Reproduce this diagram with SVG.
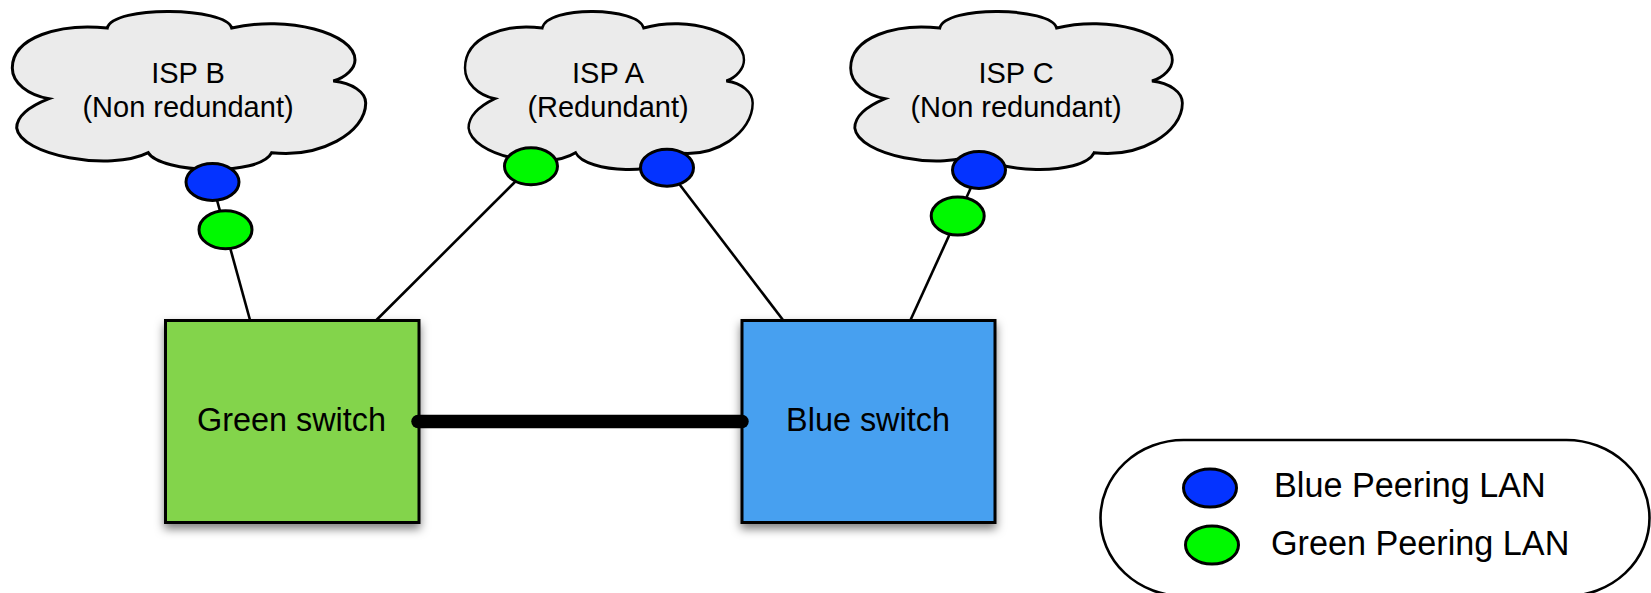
<svg xmlns="http://www.w3.org/2000/svg" xmlns:xlink="http://www.w3.org/1999/xlink" width="1651" height="593" viewBox="0 0 1651 593">
<style>
text{font-family:"Liberation Sans",Arial,sans-serif;fill:#000}
.c{text-anchor:middle}
.isp{font-size:29px}
.sw{font-size:32.400px}
.leg{font-size:34.200px}
.cloud{fill:#ebebeb;stroke:#000;stroke-width:3;stroke-linejoin:miter;vector-effect:non-scaling-stroke}
.b{fill:#0433ff}
.g{fill:#00f900}
.port{stroke:#000;stroke-width:3}
.box{stroke:#000;stroke-width:3;filter:url(#sh)}
.ln{stroke:#000;stroke-width:2.600;fill:none}
</style>
<defs>
<filter id="sh" x="-10%" y="-10%" width="120%" height="125%"><feDropShadow dx="0" dy="5" stdDeviation="5" flood-color="#000" flood-opacity="0.5"/></filter>
<path id="cl" d="M107.300 28C113 5 226 7 231.700 28C287 15 355 33 355 60C355 68 346.700 77 333.300 81C352 83 365.700 92 365.700 103C365.700 133 320 158 271.700 152.700C260 177 160 173 148.300 152.700C110 172 20 155 16.700 128C16.700 115 33 105 49 98.700C28 95 12.300 83 12.300 68C12.300 37 60 23 107.300 28Z"/>
</defs>
<g id="connectors">
<line class="ln" x1="212" y1="182" x2="250" y2="320"/>
<line class="ln" x1="531" y1="166" x2="376.500" y2="320"/>
<line class="ln" x1="667" y1="168" x2="783" y2="320"/>
<line class="ln" x1="979" y1="170" x2="910.500" y2="320"/>
</g>
<g id="isp-b">
<use xlink:href="#cl" class="cloud"/>
<text class="isp c" x="188" y="83">ISP B</text>
<text class="isp c" x="188" y="117">(Non redundant)</text>
<ellipse class="port b" cx="212.500" cy="182" rx="26.500" ry="18.500"/>
<ellipse class="port g" cx="225.500" cy="229.700" rx="26.500" ry="19"/>
</g>
<g id="isp-a">
<use xlink:href="#cl" class="cloud" transform="translate(455 0) scale(.814 1)"/>
<text class="isp c" x="608" y="83">ISP A</text>
<text class="isp c" x="608" y="117">(Redundant)</text>
<ellipse class="port g" cx="531" cy="166.300" rx="26.500" ry="18.500"/>
<ellipse class="port b" cx="667" cy="167.700" rx="26.500" ry="18.500"/>
</g>
<g id="isp-c">
<use xlink:href="#cl" class="cloud" transform="translate(839.100 0) scale(.9387 1)"/>
<text class="isp c" x="1016" y="83">ISP C</text>
<text class="isp c" x="1016" y="117">(Non redundant)</text>
<ellipse class="port b" cx="979" cy="170" rx="26.500" ry="18.500"/>
<ellipse class="port g" cx="957.700" cy="216" rx="26.500" ry="19"/>
</g>
<g id="green-switch">
<rect class="box" x="165.500" y="320.500" width="253.500" height="202" fill="#83d44c"/>
<text class="sw c" x="291.500" y="431">Green switch</text>
</g>
<g id="blue-switch">
<rect class="box" x="742" y="320.500" width="253" height="202" fill="#47a0f0"/>
<text class="sw c" x="868" y="431">Blue switch</text>
</g>
<g id="trunk">
<line x1="418" y1="421.500" x2="742" y2="421.500" stroke="#000" stroke-width="13.500" stroke-linecap="round"/>
</g>
<g id="legend">
<rect x="1100.500" y="440" width="549" height="156" rx="83" ry="78" fill="#fff" stroke="#000" stroke-width="2.600"/>
<ellipse class="port b" cx="1210" cy="488" rx="26.500" ry="19"/>
<ellipse class="port g" cx="1212" cy="545" rx="26.500" ry="19"/>
<text class="leg" x="1274" y="497">Blue Peering LAN</text>
<text class="leg" x="1271" y="555">Green Peering LAN</text>
</g>
</svg>
